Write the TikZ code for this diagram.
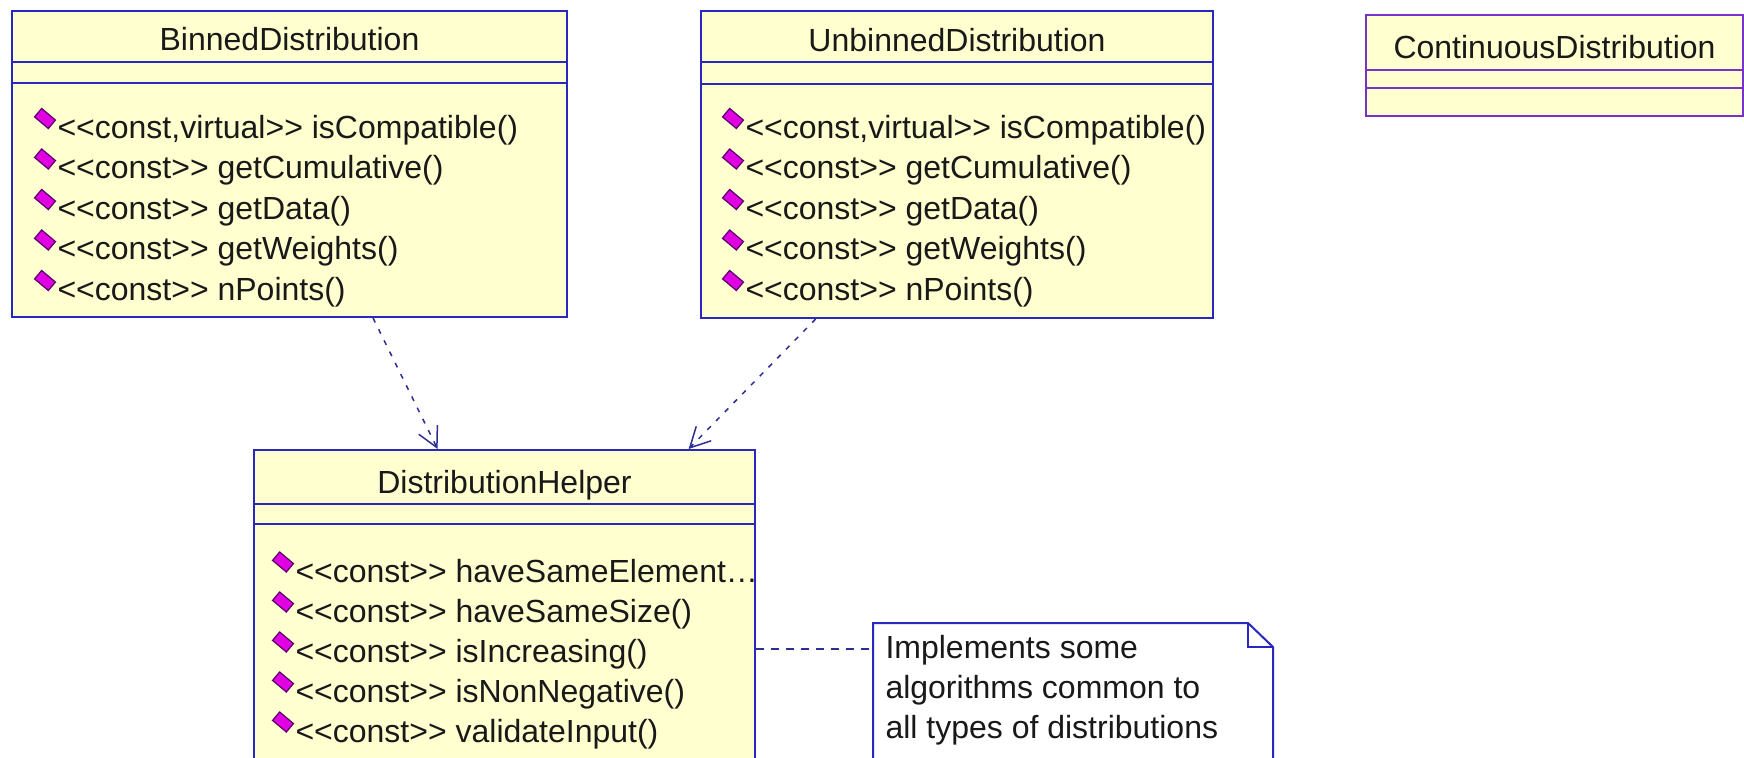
\documentclass[tikz,border=0pt]{standalone}
\usepackage{fontspec}
\setmainfont{Liberation Sans}
\usetikzlibrary{calc}
\usetikzlibrary{arrows.meta}
\usetikzlibrary{positioning}

\definecolor{classblue}{RGB}{40,40,190}
\definecolor{classfill}{RGB}{255,255,208}
\definecolor{contviolet}{RGB}{120,50,200}
\definecolor{markerpink}{RGB}{225,0,225}
\definecolor{markerdark}{RGB}{90,0,110}
\definecolor{depblue}{RGB}{45,45,150}
\definecolor{umltext}{RGB}{25,25,25}

\newcommand{\umlfont}{\fontsize{12.8pt}{16pt}\selectfont}
\newcommand{\stereo}[1]{<\kern0pt<#1>\kern0pt>}

\tikzset{
	umlclass/.style={
		draw=classblue,
		fill=classfill,
		line width=0.8pt,
		rectangle,
		inner sep=0pt,
		anchor=north west,
	},
	compartment/.style={
		draw=classblue,
		line width=0.8pt,
	},
	classtitle/.style={
		anchor=base,
		inner sep=0pt,
		text=umltext,
		font=\umlfont,
	},
	method/.style={
		anchor=base west,
		inner sep=0pt,
		text=umltext,
		font=\umlfont,
	},
	opmarker/.style={
		rectangle,
		draw=markerdark,
		fill=markerpink,
		line width=0.5pt,
		minimum width=7.2pt,
		minimum height=4.4pt,
		inner sep=0pt,
		rotate=-40,
	},
	depend/.style={
		draw=depblue,
		line width=0.6pt,
		dash pattern=on 2pt off 3pt,
		-{Straight Barb[angle=55:9pt 0]}
	},
	notelink/.style={
		draw=depblue,
		line width=0.6pt,
		dash pattern=on 3pt off 3pt,
	},
	notebox/.style={
		draw=classblue,
		fill=white,
		line width=0.8pt,
	},
	notetext/.style={
		anchor=north west,
		align=left,
		inner xsep=4.8pt,
		inner ysep=4.8pt,
		text=umltext,
		font=\umlfont,
	},
}

\begin{document}
\begin{tikzpicture}[x=0.4pt, y=-0.4pt]
	\useasboundingbox (0,0) rectangle (1744,758);

	% the three distribution classes
	\node[umlclass, minimum width=222pt, minimum height=122.4pt] (binned) at (11,10) {};
	\draw[compartment] ($(binned.north west)+(0,52)$) -- ($(binned.north east)+(0,52)$);
	\draw[compartment] ($(binned.north west)+(0,73)$) -- ($(binned.north east)+(0,73)$);
	\node[classtitle] (binned-title) at ($(binned.north)+(0,41)$) {BinnedDistribution};

	\node[umlclass, minimum width=204.8pt, minimum height=122.8pt] (unbinned) at (700,10) {};
	\draw[compartment] ($(unbinned.north west)+(0,52)$) -- ($(unbinned.north east)+(0,52)$);
	\draw[compartment] ($(unbinned.north west)+(0,74)$) -- ($(unbinned.north east)+(0,74)$);
	\node[classtitle] (unbinned-title) at ($(unbinned.north)+(0,42)$) {UnbinnedDistribution};

	\foreach \cls/\xm in {binned/57, unbinned/745} {
		\foreach \m [count=\i from 0] in {{\stereo{const,virtual} isCompatible()}, {\stereo{const} getCumulative()}, {\stereo{const} getData()}, {\stereo{const} getWeights()}, {\stereo{const} nPoints()}} {
			\node[opmarker] (\cls-d\i) at (\xm-12, 118.5+40.5*\i) {};
			\node[method] (\cls-m\i) at (\xm, 138.5+40.5*\i) {\m};
		}
	}

	\node[umlclass, draw=contviolet, minimum width=150.8pt, minimum height=40.4pt] (continuous) at (1365,14) {};
	\draw[compartment, draw=contviolet] ($(continuous.north west)+(0,56)$) -- ($(continuous.north east)+(0,56)$);
	\draw[compartment, draw=contviolet] ($(continuous.north west)+(0,74)$) -- ($(continuous.north east)+(0,74)$);
	\node[classtitle] (continuous-title) at ($(continuous.north)+(0,45)$) {ContinuousDistribution};

	% helper
	\node[umlclass, minimum width=200.4pt, minimum height=132.4pt] (helper) at (253,449) {};
	\draw[compartment] ($(helper.north west)+(0,55)$) -- ($(helper.north east)+(0,55)$);
	\draw[compartment] ($(helper.north west)+(0,75)$) -- ($(helper.north east)+(0,75)$);
	\node[classtitle] (helper-title) at ($(helper.north)+(0,44)$) {DistributionHelper};

	\foreach \m [count=\i from 0] in {{\stereo{const} haveSameElement\ldots}, {\stereo{const} haveSameSize()}, {\stereo{const} isIncreasing()}, {\stereo{const} isNonNegative()}, {\stereo{const} validateInput()}} {
		\node[opmarker] (helper-d\i) at (283, 562+40*\i) {};
		\node[method] (helper-m\i) at (295, 582+40*\i) {\m};
	}

	% note
	\coordinate (notecorner) at (873,623);
	\draw[notebox] ($(notecorner)+(0,200)$) -- (notecorner) -- ($(notecorner)+(375,0)$) -- ($(notecorner)+(400,24)$) -- ($(notecorner)+(400,200)$);
	\draw[notebox, fill=none] ($(notecorner)+(375,0)$) |- ($(notecorner)+(400,24)$);
	\node[notetext] (note) at (notecorner) {Implements some\\algorithms common to\\all types of distributions};
	\coordinate (notepoint) at ($(notecorner)+(0,26)$);

	\draw[notelink] (helper.east |- notepoint) -- (notepoint);
	\draw[depend] ($(binned.south west)!0.65!(binned.south east)$) -- ($(helper.north west)!0.367!(helper.north east)$);
	\draw[depend] ($(unbinned.south west)!0.225!(unbinned.south east)$) -- ($(helper.north west)!0.866!(helper.north east)$);
\end{tikzpicture}
\end{document}
